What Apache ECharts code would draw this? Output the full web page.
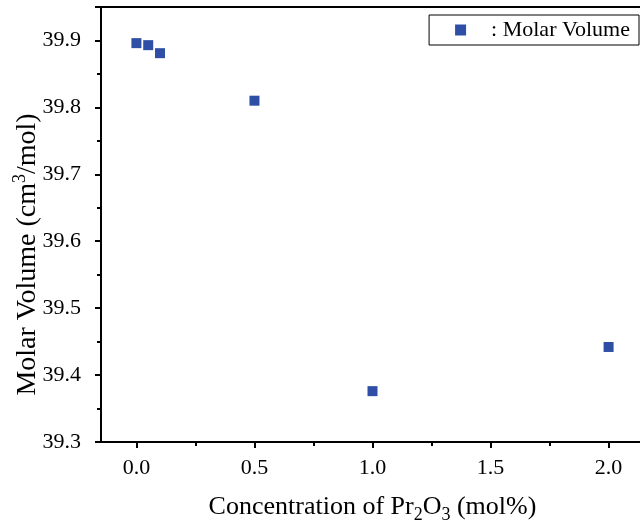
<!DOCTYPE html>
<html>
<head>
<meta charset="utf-8">
<script src="https://cdn.jsdelivr.net/npm/echarts@6/dist/echarts.min.js"></script>
<style>
  html, body { margin: 0; padding: 0; background: #fff; }
  #chart { width: 640px; height: 523px; }
</style>
</head>
<body>
<div id="chart"></div>
<script>
var concentration = [0, 0.05, 0.1, 0.5, 1.0, 2.0];
var molarVolume = [39.896, 39.893, 39.881, 39.810, 39.376, 39.442];
var xMajorTicks = [0, 0.5, 1.0, 1.5, 2.0];
var xMinorTicks = [0.25, 0.75, 1.25, 1.75];

var serif = '"Liberation Serif", "Times New Roman", serif';
var points = concentration.map(function(c, i) { return [c, molarVolume[i]]; });

var chart = echarts.init(document.getElementById('chart'));

chart.setOption({
    backgroundColor: '#fff',
    animation: false,
    grid: {
        left: 101,
        top: 7,
        right: -4,
        bottom: 81,
        outerBoundsMode: 'none',
        show: true,
        borderColor: '#000',
        borderWidth: 2
    },
    legend: {
        right: 1,
        top: 15,
        icon: 'rect',
        itemWidth: 11,
        itemHeight: 11,
        padding: [4, 9, 4, 26],
        borderColor: '#000',
        borderWidth: 1,
        borderRadius: 0,
        formatter: '{g|}: Molar Volume',
        textStyle: {
            fontFamily: serif,
            fontSize: 22,
            color: '#000',
            rich: { g: { width: 20 } }
        },
        data: ['Molar Volume']
    },
    xAxis: [{
        type: 'value',
        min: -0.15,
        max: 2.15,
        position: 'bottom',
        name: 'Concentration of Pr{sub|2}O{sub|3} (mol%)',
        nameLocation: 'middle',
        nameGap: 48,
        nameMoveOverlap: false,
        nameTextStyle: {
            fontFamily: serif,
            fontSize: 26,
            color: '#000',
            lineHeight: 34,
            rich: {
                sub: { fontFamily: serif, fontSize: 18, lineHeight: 16, verticalAlign: 'bottom', color: '#000' }
            }
        },
        axisLine: { onZero: false, lineStyle: { color: '#000', width: 2 } },
        axisTick: { customValues: xMajorTicks, length: 6, lineStyle: { color: '#000', width: 2 } },
        axisLabel: {
            customValues: xMajorTicks,
            formatter: function(v) { return v.toFixed(1); },
            fontFamily: serif, fontSize: 22, color: '#000', margin: 15
        },
        splitLine: { show: false }
    }, {
        type: 'value',
        min: -0.15,
        max: 2.15,
        position: 'bottom',
        axisLine: { show: false, onZero: false },
        axisTick: { customValues: xMinorTicks, length: 4, lineStyle: { color: '#000', width: 2 } },
        axisLabel: { show: false },
        splitLine: { show: false }
    }],
    yAxis: {
        type: 'value',
        min: 39.3,
        max: 39.95,
        interval: 0.1,
        name: 'Molar Volume (cm{sup|3}/mol)',
        nameLocation: 'middle',
        nameGap: 56,
        nameMoveOverlap: false,
        nameTextStyle: {
            fontFamily: serif,
            fontSize: 28,
            color: '#000',
            lineHeight: 34,
            padding: [0, 60, 0, 0],
            rich: {
                sup: { fontFamily: serif, fontSize: 18, lineHeight: 16, verticalAlign: 'top', color: '#000' }
            }
        },
        axisLine: { show: true, onZero: false, lineStyle: { color: '#000', width: 2 } },
        axisTick: { show: true, length: 6, lineStyle: { color: '#000', width: 2 } },
        minorTick: { show: true, splitNumber: 2, length: 4, lineStyle: { color: '#000', width: 2 } },
        axisLabel: {
            formatter: function(v) { return v.toFixed(1); },
            showMaxLabel: false,
            fontFamily: serif, fontSize: 22, color: '#000', margin: 20
        },
        splitLine: { show: false },
        minorSplitLine: { show: false }
    },
    series: [{
        name: 'Molar Volume',
        type: 'scatter',
        xAxisIndex: 0,
        symbol: 'rect',
        symbolSize: 10,
        itemStyle: { color: '#2f4ea6', opacity: 1 },
        data: points
    }]
});
</script>
</body>
</html>
